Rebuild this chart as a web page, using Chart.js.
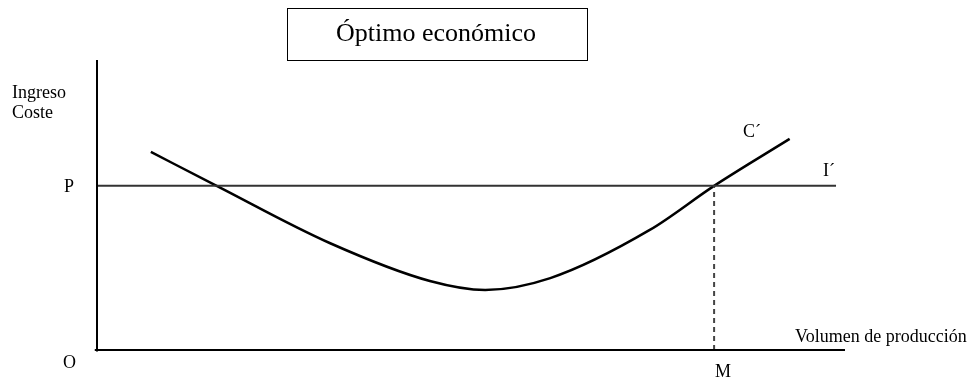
<!DOCTYPE html>
<html>
<head>
<meta charset="utf-8">
<script src="https://cdn.jsdelivr.net/npm/chart.js@4/dist/chart.umd.min.js"></script>
<style>
  html, body { margin: 0; padding: 0; background: #fff; }
  #wrap { width: 976px; height: 381px; }
</style>
</head>
<body>
<div id="wrap"><canvas id="optimoChart" width="976" height="381"></canvas></div>
<script>
// values (x: volumen, y: ingreso/coste, 0-100 units)
const costX = [7.2, 16.0, 31.1, 44.5, 51.9, 60.6, 73.9, 82.5, 92.6];
const costY = [68.3, 56.6, 36.9, 23.8, 20.7, 24.8, 41.4, 56.6, 72.8];
const priceLevel = 56.6;   // P
const incomeEnd = 98.8;    // I´ line end
const optimumX = 82.5;     // M
const axisMax = 100;

const serif = '"Liberation Serif", "Times New Roman", serif';

// titles and letters
const labelsPlugin = {
  id: 'labels',
  afterDraw(chart) {
    const ctx = chart.ctx;
    const xs = chart.scales.x, ys = chart.scales.y;
    const x0 = xs.getPixelForValue(0), y0 = ys.getPixelForValue(0);
    ctx.save();
    ctx.fillStyle = '#000';
    ctx.textBaseline = 'alphabetic';

    // title box
    ctx.strokeStyle = '#000';
    ctx.lineWidth = 1;
    ctx.strokeRect(287.5, 8.5, 300, 52);
    ctx.font = '26px ' + serif;
    ctx.textAlign = 'center';
    ctx.fillText('Óptimo económico', 436, 41);

    ctx.font = '18px ' + serif;
    ctx.textAlign = 'left';
    ctx.fillText('Ingreso', 12, 98);
    ctx.fillText('Coste', 12, 118);
    ctx.fillText('P', x0 - 33, ys.getPixelForValue(priceLevel) + 6);
    ctx.fillText('O', x0 - 34, y0 + 18);
    ctx.textAlign = 'center';
    ctx.fillText('M', xs.getPixelForValue(optimumX) + 9, y0 + 27);
    ctx.textAlign = 'left';
    ctx.fillText('Volumen de producción', 795, y0 - 8);
    ctx.fillText('C\u00b4', 743, 137);
    ctx.fillText('I\u00b4', 823, 176);
    ctx.restore();
  }
};

const ctx = document.getElementById('optimoChart').getContext('2d');
new Chart(ctx, {
  type: 'line',
  data: {
    datasets: [
      {
        // eje vertical
        data: [{x: 0, y: -0.5}, {x: 0, y: axisMax}],
        borderColor: '#000', borderWidth: 2, pointRadius: 0, tension: 0
      },
      {
        // eje horizontal
        data: [{x: -0.3, y: 0}, {x: axisMax, y: 0}],
        borderColor: '#000', borderWidth: 2, pointRadius: 0, tension: 0
      },
      {
        // ingreso I´
        data: [{x: 0, y: priceLevel}, {x: incomeEnd, y: priceLevel}],
        borderColor: '#333', borderWidth: 2, pointRadius: 0, tension: 0
      },
      {
        // M
        data: [{x: optimumX, y: 0}, {x: optimumX, y: priceLevel}],
        borderColor: '#444', borderWidth: 2, borderDash: [5, 4], pointRadius: 0, tension: 0
      },
      {
        // coste C´
        data: costX.map((x, i) => ({x: x, y: costY[i]})),
        borderColor: '#000', borderWidth: 2.5, pointRadius: 0,
        cubicInterpolationMode: 'monotone'
      }
    ]
  },
  options: {
    responsive: false,
    animation: false,
    clip: false,
    layout: { padding: { left: 97, right: 131, top: 60, bottom: 31 } },
    plugins: { legend: { display: false }, tooltip: { enabled: false } },
    scales: {
      x: { type: 'linear', min: 0, max: axisMax, display: false },
      y: { type: 'linear', min: 0, max: axisMax, display: false }
    }
  },
  plugins: [labelsPlugin]
});
</script>
</body>
</html>
